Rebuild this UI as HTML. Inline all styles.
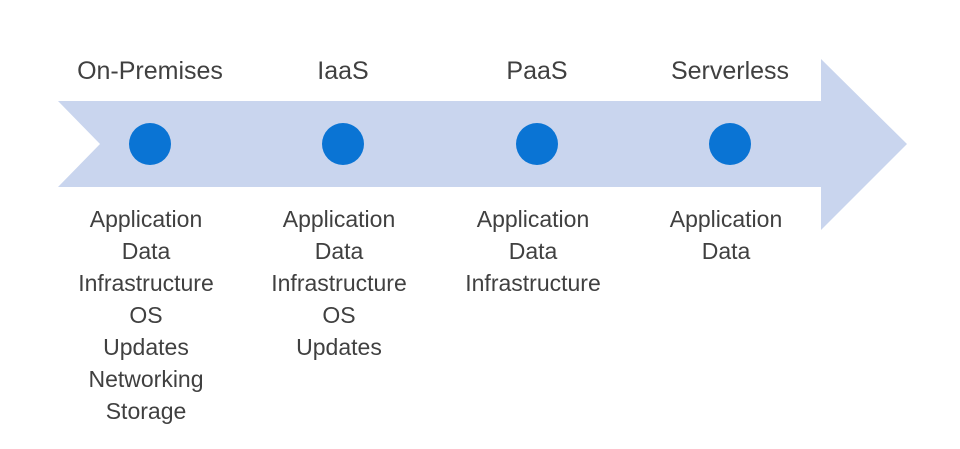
<!DOCTYPE html>
<html><head><meta charset="utf-8"><style>html,body{margin:0;padding:0;background:#fff}svg{display:block}</style></head>
<body>
<svg width="960" height="449" viewBox="0 0 960 449" xmlns="http://www.w3.org/2000/svg">
<polygon points="58,101 821,101 821,59 907,144 821,230 821,187 58,187 100,144" fill="#c9d5ee"/>
<g fill="#0a74d4">
<circle cx="150" cy="144" r="21"/><circle cx="343" cy="144" r="21"/><circle cx="537" cy="144" r="21"/><circle cx="730" cy="144" r="21"/>
</g>
<g font-family="Liberation Sans, sans-serif" fill="#404040" text-anchor="middle">
<g font-size="25">
<text x="150" y="79">On-Premises</text><text x="343" y="79">IaaS</text><text x="537" y="79">PaaS</text><text x="730" y="79">Serverless</text>
</g>
<g font-size="23">
<text x="146" y="227">Application</text><text x="146" y="259">Data</text><text x="146" y="291">Infrastructure</text><text x="146" y="323">OS</text><text x="146" y="355">Updates</text><text x="146" y="387">Networking</text><text x="146" y="419">Storage</text>
<text x="339" y="227">Application</text><text x="339" y="259">Data</text><text x="339" y="291">Infrastructure</text><text x="339" y="323">OS</text><text x="339" y="355">Updates</text>
<text x="533" y="227">Application</text><text x="533" y="259">Data</text><text x="533" y="291">Infrastructure</text>
<text x="726" y="227">Application</text><text x="726" y="259">Data</text>
</g>
</g>
</svg>
</body></html>
